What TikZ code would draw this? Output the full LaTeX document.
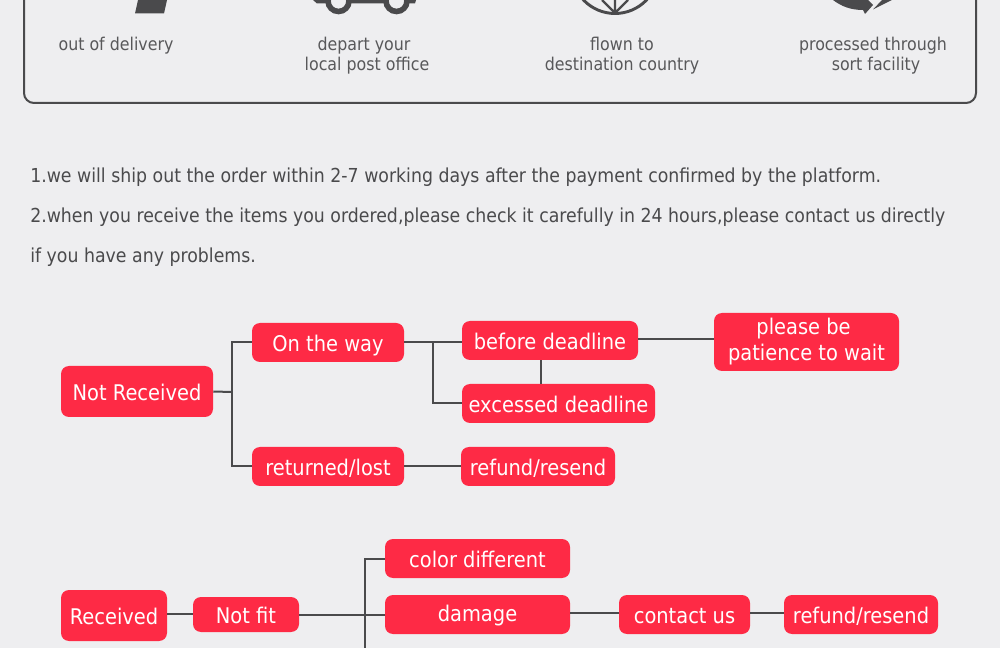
\documentclass[tikz,border=0pt]{standalone}
\usepackage{fontspec}
\setmainfont[FakeStretch=0.9]{DejaVu Sans}
\definecolor{pagebg}{HTML}{EEEEF0}
\definecolor{boxred}{HTML}{FE2A45}
\definecolor{inkgray}{HTML}{4A4A4C}
\definecolor{labgray}{HTML}{58585A}
\def\px{0.75pt}
\begin{document}
\begin{tikzpicture}[x=0.75pt,y=-0.75pt,
            bx/.style={fill=boxred,text=white,rounded corners=6pt,inner sep=0pt,align=center,
                font=\fontsize{16.2pt}{19.5pt}\selectfont,text height=13.4pt,text depth=0.6pt},
            conn/.style={draw=inkgray,line width=1.5pt},
            lab/.style={anchor=base,text=labgray,inner sep=0pt,font=\fontsize{13.2pt}{16pt}\selectfont},
            body/.style={anchor=base west,text=inkgray,inner sep=0pt,font=\fontsize{14.45pt}{18pt}\selectfont},
            icon/.style={fill=inkgray}]
            \useasboundingbox (0,0) rectangle (1000,648);
            \clip (0,0) rectangle (1000,648);
            \fill[pagebg] (0,0) rectangle (1000,648);

            % the frame, its top edge is cut off by the page
            \draw[inkgray,line width=1.5pt,rounded corners=7.5pt] (24,-20) -- (24,103) -- (976,103) -- (976,-20);

            % what is left of the four icons
            \fill[icon] (138,0) -- (135,13.5) -- (164,13.5) -- (167,0) -- cycle;
            \fill[icon] (313,0) -- (317,3.5) -- (415,3.5) -- (416,0) -- cycle;
            \draw[inkgray,fill=pagebg,line width=4.2pt] (338.5,1) circle (10.5);
            \draw[inkgray,fill=pagebg,line width=4.2pt] (396.5,1) circle (10.5);
            \draw[inkgray,line width=2.2pt] (615,-30) circle (43.5);
            \draw[inkgray,line width=1.8pt] (615,13) -- (615,0) (615,13) -- (602,0) (615,13) -- (628,0);
            \fill[icon] (833,0) .. controls (841,6) and (850,10) .. (863,10) -- (865,14) -- (873,5) -- (868,0) -- cycle;
            \fill[icon] (873,9.5) -- (892,0) -- (882,0) -- cycle;

            \node[lab] (la) at (116,50.5) {out of delivery};
            \node[lab] (lb) at (364,50.5) {depart your};
            \node[lab] (lc) at (367,70.5) {local post office};
            \node[lab] (ld) at (622,50.5) {flown to};
            \node[lab] (le) at (622,70.5) {destination country};
            \node[lab] (lf) at (873,50.5) {processed through};
            \node[lab] (lg) at (876,70.5) {sort facility};

            \node[body] (ta) at (30,183) {1.we will ship out the order within 2-7 working days after the payment confirmed by the platform.};
            \node[body] (tb) at (30,223) {2.when you receive the items you ordered,please check it carefully in 24 hours,please contact us directly};
            \node[body] (tc) at (30,263) {if you have any problems.};

            % not received
            \node[bx,minimum width=152*\px,minimum height=51*\px] (nrecv) at (137,391.5) {Not Received};
            \node[bx,minimum width=152*\px,minimum height=39*\px] (onway) at (328,342.5) {On the way};
            \node[bx,minimum width=152*\px,minimum height=39*\px] (retlost) at (328,466.5) {returned/lost};
            \node[bx,minimum width=176*\px,minimum height=39*\px] (before) at (550,340.5) {before deadline};
            \node[bx,minimum width=193*\px,minimum height=39*\px] (excess) at (558.5,403.5) {excessed deadline};
            \node[bx,minimum width=154*\px,minimum height=39*\px] (refunda) at (538,466.5) {refund/resend};
            \node[bx,text height=,text depth=,minimum width=185*\px,minimum height=58*\px] (wait) at (806.5,342) {please be\hspace*{4.5pt}\\patience to wait};
            \coordinate (ja) at (232,392);
            \coordinate (jb) at (433,342);
            \draw[conn] (nrecv.east) -- (ja);
            \draw[conn] (onway.west) -| (ja) |- (retlost.west);
            \draw[conn] (onway.east) -- (before.west |- onway.east);
            \draw[conn] (jb) |- (excess.west);
            \draw[conn] (before.south -| 541,0) -- (excess.north -| 541,0);
            \draw[conn] (before.east |- 0,339) -- (wait.west |- 0,339);
            \draw[conn] (retlost.east) -- (refunda.west);

            % received
            \node[bx,minimum width=106*\px,minimum height=51*\px] (recv) at (114,615.5) {Received};
            \node[bx,minimum width=106*\px,minimum height=35*\px] (notfit) at (246,614.5) {Not fit};
            \node[bx,minimum width=185*\px,minimum height=39*\px] (colordf) at (477.5,558.5) {color different};
            \node[bx,text height=10.4pt,minimum width=185*\px,minimum height=39*\px] (damage) at (477.5,614.5) {damage};
            \node[bx,minimum width=131*\px,minimum height=39*\px] (contact) at (684.5,614.5) {contact us};
            \node[bx,minimum width=154*\px,minimum height=39*\px] (refundb) at (861,614.5) {refund/resend};
            \coordinate (jc) at (365,660);
            \draw[conn] (recv.east |- 0,614) -- (notfit.west |- 0,614);
            \draw[conn] (notfit.east) -- (damage.west);
            \draw[conn] (colordf.west) -| (jc);
            \draw[conn] (damage.east |- 0,613) -- (contact.west |- 0,613);
            \draw[conn] (contact.east |- 0,613) -- (refundb.west |- 0,613);
\end{tikzpicture}
\end{document}
